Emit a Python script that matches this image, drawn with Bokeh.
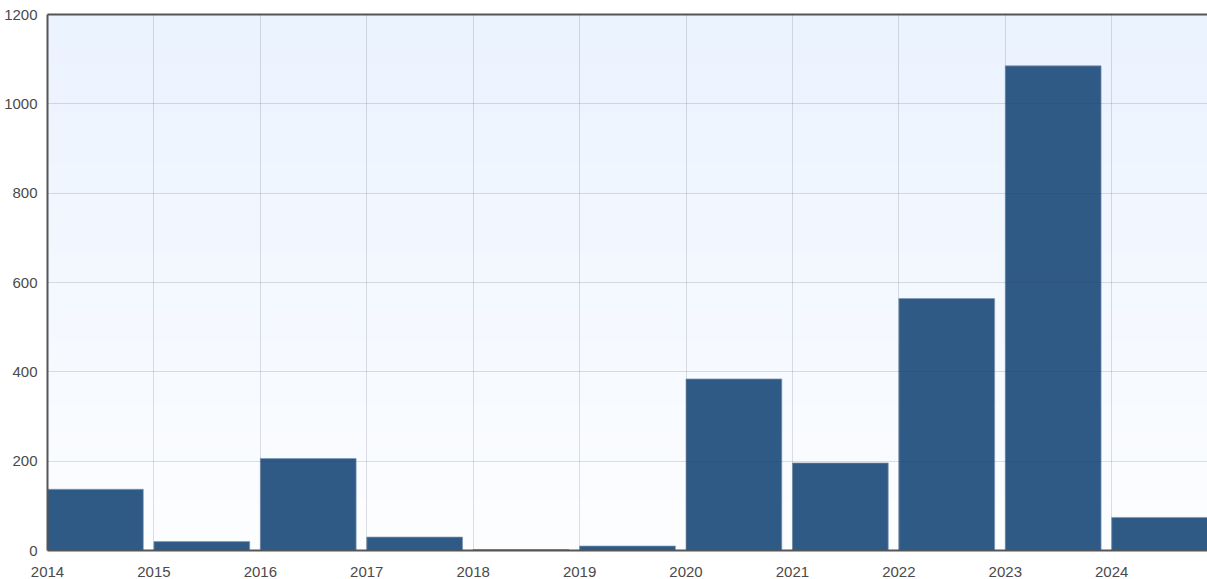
import numpy as np
from bokeh.plotting import figure
from bokeh.models import Range1d, FixedTicker, LinearAxis
from bokeh.embed import file_html
from bokeh.resources import INLINE

years = [2014, 2015, 2016, 2017, 2018, 2019, 2020, 2021, 2022, 2023, 2024]
counts = [137, 20, 206, 30, 2, 10, 384, 196, 564, 1085, 74]
y_ticks = [0, 200, 400, 600, 800, 1000, 1200]

bar_width = 0.9
x_start, x_end = years[0], years[-1] + bar_width
y_start, y_end = 0, 1200

p = figure(width=1207, height=579, output_backend="svg", toolbar_location=None,
           x_range=Range1d(x_start, x_end), y_range=Range1d(y_start, y_end),
           min_border_left=47, min_border_right=0, min_border_top=14, min_border_bottom=28)
p.outline_line_color = None
p.background_fill_color = "#ffffff"
p.border_fill_color = "#ffffff"

# vertical gradient background
n = 256
t = np.linspace(0, 1, n)
top = np.array([235, 243, 255])
bot = np.array([253, 254, 255])
img = np.zeros((n, 1), dtype=np.uint32)
view = img.view(dtype=np.uint8).reshape((n, 1, 4))
for i in range(n):
    c = bot + (top - bot) * t[i]
    view[i, 0, 0] = int(c[0]); view[i, 0, 1] = int(c[1]); view[i, 0, 2] = int(c[2]); view[i, 0, 3] = 255
p.image_rgba(image=[img], x=x_start, y=y_start, dw=x_end - x_start, dh=y_end - y_start)

lefts = [y for y in years]
rights = [y + bar_width for y in years]
p.quad(left=lefts, right=rights, bottom=0, top=counts,
       fill_color="#2f5a85", fill_alpha=1.0, line_color="#7f98b4", line_width=1, line_alpha=0.7)

for ax in (p.xaxis, p.yaxis):
    ax.major_tick_line_color = None
    ax.minor_tick_line_color = None
    ax.axis_line_color = "#555555"
    ax.axis_line_width = 2
    ax.major_label_text_font = "Liberation Sans"
    ax.major_label_text_font_size = "15px"
    ax.major_label_text_color = "#4a4a4a"

p.xaxis.ticker = FixedTicker(ticks=years)
p.yaxis.ticker = FixedTicker(ticks=y_ticks)
p.xaxis.major_label_standoff = 10
p.yaxis.major_label_standoff = 4

top_axis = LinearAxis(ticker=FixedTicker(ticks=[]), major_label_text_font_size="0px",
                      axis_line_color="#555555", axis_line_width=2,
                      major_tick_line_color=None, minor_tick_line_color=None,
                      major_label_standoff=0)
p.add_layout(top_axis, "above")

for g in (p.xgrid, p.ygrid):
    g.grid_line_color = "#2a3550"
    g.grid_line_alpha = 0.16
    g.grid_line_width = 1
    g.level = "overlay"
p.xgrid.ticker = FixedTicker(ticks=years)
p.ygrid.ticker = FixedTicker(ticks=y_ticks)

open("out.html", "w").write(file_html(p, INLINE))
